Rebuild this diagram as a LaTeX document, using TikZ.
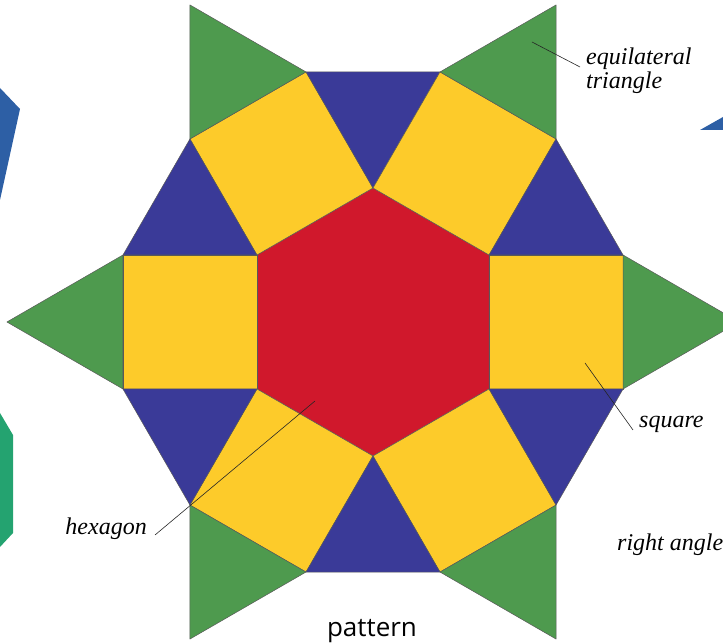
\documentclass[tikz,border=0pt]{standalone}
\usepackage{fontspec}
\setmainfont{Liberation Serif}
\newfontfamily\captionfont{Open Sans}
\usepackage{tikz}
\usetikzlibrary{positioning}
\definecolor{hexred}{RGB}{208,24,44}
\definecolor{sqyellow}{RGB}{253,203,42}
\definecolor{triblue}{RGB}{58,58,152}
\definecolor{trigreen}{RGB}{78,154,78}
\definecolor{nbblue}{RGB}{45,95,165}
\definecolor{nbteal}{RGB}{36,163,112}

\begin{document}
\begin{tikzpicture}[
  x=1pt, y=1pt,
  tile/.style={draw=black!65, line width=0.5pt, line join=round},
  lbl/.style={font=\fontsize{24}{24}\selectfont\itshape, inner sep=0pt, align=left},
  lead/.style={black!85, line width=0.6pt}
]
\useasboundingbox (0,0) rectangle (723,644);
\coordinate (c) at (373,322);
\fill[nbblue] (0,556) -- (20,535) -- (0,444) -- cycle;
\fill[nbteal] (0,231) -- (13,209) -- (13,111) -- (0,97) -- cycle;
\fill[nbblue] (700,514) -- (723,527) -- (723,514) -- cycle;
\begin{scope}[shift={(c)}]
  \draw[tile, fill=hexred] (90:134) -- (150:134) -- (210:134) -- (270:134)
    -- (330:134) -- (30:134) -- cycle;
  \foreach \a in {0,60,...,300} {
    \begin{scope}[rotate=\a]
      \draw[tile, fill=sqyellow] (90:134) -- (150:134) -- ++(120:134) -- ++(30:134) -- cycle;
      \draw[tile, fill=trigreen] (150:134) ++(120:134) -- ++(90:134) -- ++(-30:134) -- cycle;
      \draw[tile, fill=triblue] (90:134) -- ++(120:134) -- ++(0:134) -- cycle;
    \end{scope}
  }
\end{scope}
\node[lbl, anchor=base west] (eq) at (586,555) {equilateral\\triangle};
\node[lbl, anchor=base west] (sq) at (639,216) {square};
\node[lbl, anchor=base east] (hex) at (147,109) {hexagon};
\node[lbl, anchor=base west] (ra) at (617,93) {right angle};
\node[font=\captionfont\fontsize{26}{26}\selectfont, inner sep=0pt, anchor=base] (pat) at (372,7) {pattern};
\coordinate (eqpt) at (532,602);
\coordinate (sqpt) at (585,281);
\coordinate (hexpt) at (315,243);
\draw[lead] (eqpt) -- ([shift={(-6pt,22pt)}]eq.base west);
\draw[lead] (sqpt) -- ([shift={(-6pt,-2pt)}]sq.base west);
\draw[lead] (hexpt) -- ([shift={(8pt,0pt)}]hex.base east);
\end{tikzpicture}
\end{document}
